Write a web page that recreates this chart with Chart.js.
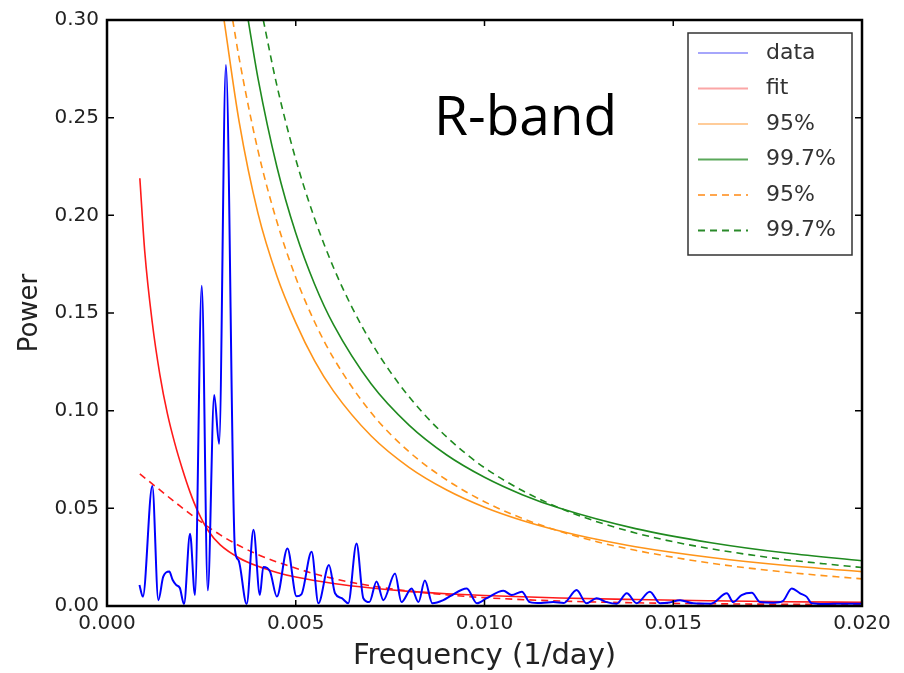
<!DOCTYPE html>
<html>
<head>
<meta charset="utf-8">
<title>R-band power spectrum</title>
<script src="https://cdn.jsdelivr.net/npm/chart.js@4.4.1/dist/chart.umd.min.js"></script>
<style>
  html, body { margin: 0; padding: 0; background: #fff; }
  #chart { display: block; }
</style>
</head>
<body>
<canvas id="chart" width="904" height="673"></canvas>
<script>
// periodogram (blue)
const dataFreq = [0.00086, 0.00095, 0.0012, 0.00136, 0.00149, 0.00165, 0.00174, 0.00183, 0.00193, 0.00204,
  0.0022, 0.00233, 0.00251, 0.00267, 0.00284, 0.00297, 0.00315, 0.00339, 0.00348, 0.0037,
  0.00388, 0.00405, 0.00414, 0.00432, 0.0045, 0.00478, 0.00502, 0.00515, 0.00542, 0.0056,
  0.00588, 0.00604, 0.00622, 0.00639, 0.00661, 0.00679, 0.00695, 0.00714, 0.00732, 0.00763,
  0.0078, 0.00807, 0.00825, 0.00842, 0.00862, 0.00891, 0.00909, 0.00953, 0.0098, 0.01006,
  0.0105, 0.01072, 0.01099, 0.0112, 0.0115, 0.01182, 0.0121, 0.01244, 0.0127, 0.01297,
  0.01324, 0.0135, 0.01377, 0.01403, 0.01438, 0.01465, 0.0149, 0.01518, 0.01553, 0.016,
  0.01642, 0.01659, 0.01681, 0.01708, 0.0173, 0.01765, 0.0179, 0.01814, 0.01836, 0.01853,
  0.01867, 0.019, 0.0195, 0.02];
const dataPower = [0.0108, 0.0048, 0.0614, 0.003, 0.015, 0.0176, 0.0133, 0.0108, 0.0092, 0.001,
  0.037, 0.0056, 0.164, 0.008, 0.108, 0.083, 0.277, 0.0287, 0.0236, 0.001,
  0.039, 0.0056, 0.020, 0.0176, 0.0048, 0.0295, 0.005, 0.006, 0.0278, 0.0014,
  0.021, 0.0065, 0.004, 0.0014, 0.032, 0.004, 0.002, 0.0125, 0.003, 0.0167,
  0.002, 0.009, 0.002, 0.013, 0.0014, 0.003, 0.005, 0.009, 0.0014, 0.004,
  0.0078, 0.0056, 0.0073, 0.002, 0.0015, 0.002, 0.0015, 0.0082, 0.0014, 0.004,
  0.002, 0.0012, 0.0065, 0.0014, 0.0073, 0.0014, 0.0018, 0.003, 0.0014, 0.0012,
  0.0065, 0.002, 0.0056, 0.0068, 0.002, 0.0017, 0.0025, 0.009, 0.0065, 0.0048,
  0.0014, 0.0010, 0.0012, 0.0012];

// fit (red solid) and the second fit (red dashed)
const fitFreq = [0.00087, 0.001, 0.0012, 0.0014, 0.0016, 0.0018, 0.002, 0.0022, 0.0024, 0.0027,
  0.003, 0.0035, 0.004, 0.0045, 0.005, 0.006, 0.007, 0.008, 0.009, 0.010,
  0.012, 0.014, 0.016, 0.018, 0.020];
const fitPower = [0.219, 0.1815, 0.145, 0.1185, 0.0985, 0.0830, 0.0699, 0.0583, 0.0487, 0.0380,
  0.0313, 0.0246, 0.0203, 0.0172, 0.0148, 0.0115, 0.0092, 0.0075, 0.0063, 0.0054,
  0.0041, 0.0033, 0.0027, 0.0022, 0.0019];
const fitDashFreq = [0.00087, 0.0014, 0.00193, 0.00246, 0.003, 0.00352, 0.00405, 0.00458, 0.00511, 0.00564,
  0.00617, 0.0067, 0.00723, 0.00776, 0.00882, 0.00988, 0.01147, 0.01306, 0.01571, 0.02];
const fitDashPower = [0.0676, 0.0594, 0.0512, 0.0435, 0.0364, 0.0307, 0.0259, 0.0220, 0.0187, 0.0157,
  0.0133, 0.0113, 0.0096, 0.0082, 0.0060, 0.0044, 0.0029, 0.0020, 0.0012, 0.0007];

// significance levels, solid
const o95Freq = [0.0031, 0.0035, 0.004, 0.0045, 0.005, 0.0055, 0.006, 0.007, 0.008, 0.009,
  0.010, 0.011, 0.012, 0.013, 0.014, 0.016, 0.018, 0.020];
const o95Power = [0.300, 0.248, 0.201, 0.169, 0.1451, 0.1255, 0.1100, 0.0870, 0.0710, 0.0594,
  0.0506, 0.0438, 0.0384, 0.0340, 0.0303, 0.0248, 0.0207, 0.0176];
const g997Freq = [0.00374, 0.004, 0.0045, 0.005, 0.0055, 0.006, 0.007, 0.008, 0.009, 0.010,
  0.011, 0.012, 0.014, 0.016, 0.018, 0.020];
const g997Power = [0.300, 0.2701, 0.2249, 0.1909, 0.1647, 0.1440, 0.1136, 0.0926, 0.0773, 0.0659,
  0.0570, 0.0500, 0.0396, 0.0324, 0.0271, 0.0232];

// significance levels, dashed
const d95Freq = [0.00333, 0.0035, 0.004, 0.0045, 0.005, 0.0055, 0.006, 0.007, 0.008, 0.009,
  0.010, 0.011, 0.012, 0.013, 0.014, 0.016, 0.018, 0.020];
const d95Power = [0.300, 0.2805, 0.2331, 0.1968, 0.1682, 0.1454, 0.1269, 0.0989, 0.0790, 0.0645,
  0.0534, 0.0449, 0.0382, 0.0328, 0.0285, 0.0219, 0.0173, 0.0139];
const d997Freq = [0.00414, 0.0045, 0.005, 0.0055, 0.006, 0.0065, 0.007, 0.0075, 0.008, 0.0085,
  0.009, 0.0095, 0.010, 0.011, 0.012, 0.013, 0.014, 0.015, 0.016, 0.017,
  0.018, 0.019, 0.020];
const d997Power = [0.300, 0.2665, 0.2287, 0.1983, 0.1733, 0.1525, 0.1349, 0.1200, 0.1072, 0.0961,
  0.0865, 0.0781, 0.0708, 0.0591, 0.0501, 0.0430, 0.0374, 0.0329, 0.0293, 0.0263,
  0.0237, 0.0216, 0.0197];

const xTicks = [0, 0.005, 0.01, 0.015, 0.02];
const yTicks = [0, 0.05, 0.1, 0.15, 0.2, 0.25, 0.3];

const pts = (xs, ys) => xs.map((x, i) => ({ x, y: ys[i] }));

function line(label, xs, ys, color, width, dash, legendColor) {
  return {
    label,
    data: pts(xs, ys),
    borderColor: color,
    borderWidth: width,
    borderDash: dash || [],
    legendColor,
    pointRadius: 0,
    fill: false,
    cubicInterpolationMode: 'monotone',
  };
}

const datasets = [
  line('data', dataFreq, dataPower, '#0000ff', 2, null, '#a6a6fb'),
  line('fit', fitFreq, fitPower, '#ff1a1a', 1.6, null, '#fba6a6'),
  line('95%', o95Freq, o95Power, '#ff9419', 1.6, null, '#ffcc99'),
  line('99.7%', g997Freq, g997Power, '#1f8a1f', 1.6, null, '#5aa85a'),
  line('95%', d95Freq, d95Power, '#ff9419', 1.6, [7, 5], '#ffa64d'),
  line('99.7%', d997Freq, d997Power, '#1f8a1f', 1.6, [7, 5], '#2a8a2a'),
  line('', fitDashFreq, fitDashPower, '#ff1a1a', 1.6, [7, 5], null),
];

// frame, inward ticks, legend box and the band label
const decor = {
  id: 'decor',
  afterDatasetsDraw(chart) {
    const { ctx, chartArea: a, scales } = chart;
    ctx.save();
    ctx.strokeStyle = '#000';
    ctx.lineWidth = 1.5;
    ctx.beginPath();
    xTicks.forEach(v => {
      const px = scales.x.getPixelForValue(v);
      ctx.moveTo(px, a.bottom); ctx.lineTo(px, a.bottom - 6);
      ctx.moveTo(px, a.top); ctx.lineTo(px, a.top + 6);
    });
    yTicks.forEach(v => {
      const py = scales.y.getPixelForValue(v);
      ctx.moveTo(a.left, py); ctx.lineTo(a.left + 7, py);
      ctx.moveTo(a.right, py); ctx.lineTo(a.right - 7, py);
    });
    ctx.stroke();
    ctx.lineWidth = 2.5;
    ctx.strokeRect(a.left, a.top, a.right - a.left, a.bottom - a.top);

    // legend
    const lx = 688, ly = 33, lw = 164, lh = 222;
    ctx.fillStyle = '#fff';
    ctx.fillRect(lx, ly, lw, lh);
    ctx.lineWidth = 1.5;
    ctx.strokeStyle = '#333';
    ctx.strokeRect(lx, ly, lw, lh);
    ctx.font = '22px "DejaVu Sans"';
    ctx.textBaseline = 'middle';
    ctx.textAlign = 'left';
    chart.data.datasets.filter(d => d.legendColor).forEach((d, i) => {
      const y = ly + 20 + i * 35.5;
      ctx.strokeStyle = d.legendColor;
      ctx.lineWidth = 2;
      ctx.setLineDash(d.borderDash);
      ctx.beginPath();
      ctx.moveTo(698, y); ctx.lineTo(748, y);
      ctx.stroke();
      ctx.setLineDash([]);
      ctx.fillStyle = '#333';
      ctx.fillText(d.label, 766, y);
    });

    ctx.fillStyle = '#000';
    ctx.font = '55px "Open Sans"';
    ctx.textBaseline = 'alphabetic';
    ctx.fillText('R-band', 434, 135);
    ctx.restore();
  }
};

new Chart(document.getElementById('chart'), {
  type: 'line',
  data: { datasets },
  plugins: [decor],
  options: {
    responsive: false,
    animation: false,
    devicePixelRatio: 1,
    layout: { padding: { top: 20, right: 42, left: 0, bottom: 0 } },
    plugins: { legend: { display: false }, tooltip: { enabled: false } },
    scales: {
      x: {
        type: 'linear',
        min: 0, max: 0.02,
        afterBuildTicks: s => { s.ticks = xTicks.map(value => ({ value })); },
        afterFit: s => { s.height = 67; },
        grid: { display: false, drawTicks: false, tickLength: 0 },
        border: { display: false },
        ticks: {
          padding: 6,
          color: '#222',
          font: { family: 'DejaVu Sans', size: 20 },
          callback: v => v.toFixed(3),
        },
        title: {
          display: true,
          text: 'Frequency (1/day)',
          color: '#222',
          font: { family: 'DejaVu Sans', size: 29, lineHeight: 1 },
          padding: { top: 0, bottom: 2 },
        },
      },
      y: {
        min: 0, max: 0.3,
        afterBuildTicks: s => { s.ticks = yTicks.map(value => ({ value })); },
        afterFit: s => { s.width = 107; },
        grid: { display: false, drawTicks: false, tickLength: 0 },
        border: { display: false },
        ticks: {
          padding: 8,
          color: '#222',
          font: { family: 'DejaVu Sans', size: 20 },
          callback: v => v.toFixed(2),
        },
        title: {
          display: true,
          text: 'Power',
          color: '#222',
          font: { family: 'DejaVu Sans', size: 26, lineHeight: 1 },
          padding: { top: 17, bottom: 0 },
        },
      },
    },
  },
});
</script>
</body>
</html>
